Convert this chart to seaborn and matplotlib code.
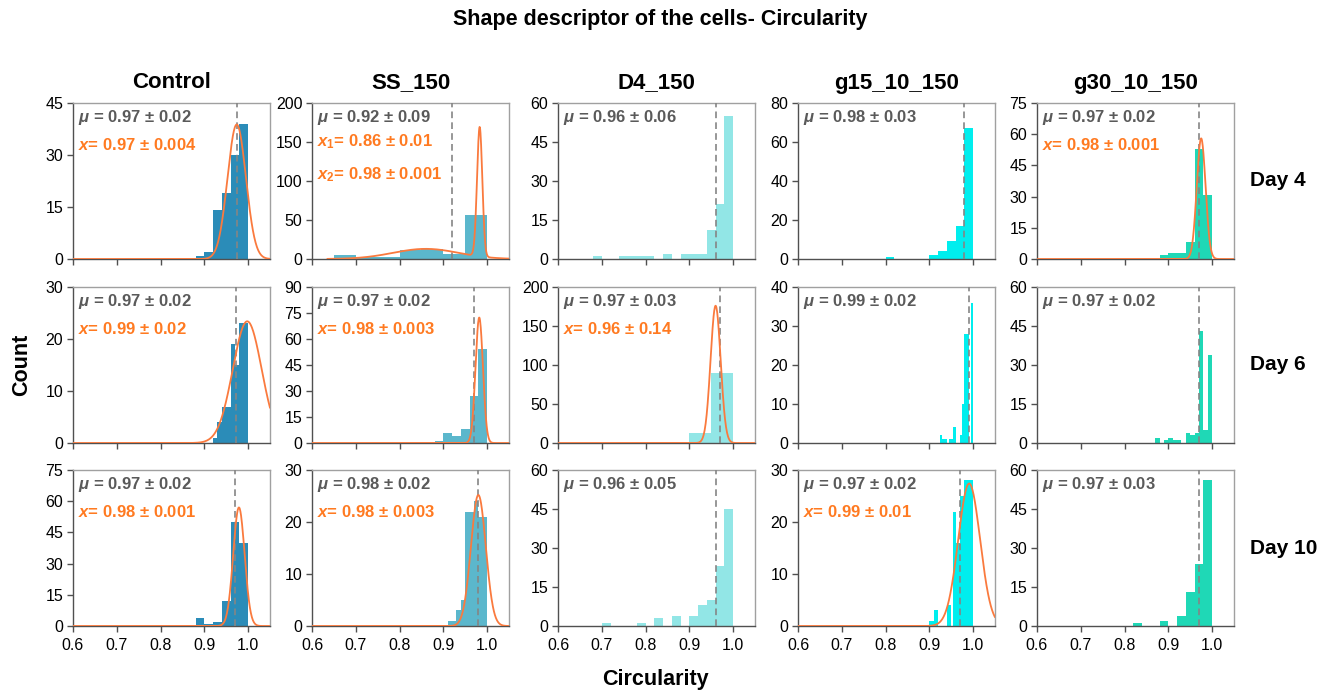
import numpy as np
import pandas as pd
import matplotlib
matplotlib.use("Agg")
import matplotlib.pyplot as plt
import seaborn as sns

sns.set_theme(style="ticks")
plt.rcParams['font.family'] = ['Liberation Sans', 'DejaVu Sans']
plt.rcParams['text.color'] = 'black'
plt.rcParams['mathtext.fontset'] = 'custom'
plt.rcParams['mathtext.it'] = 'Liberation Sans:italic:bold'
plt.rcParams['mathtext.rm'] = 'Liberation Sans:bold'
plt.rcParams['mathtext.bf'] = 'Liberation Sans:bold'

# ---------------- categories / labels ----------------
conditions = ["Control", "SS_150", "D4_150", "g15_10_150", "g30_10_150"]
days = ["Day 4", "Day 6", "Day 10"]
bar_colors = ["#2B8CB8", "#5BB7CC", "#92E6E6", "#00EEEE", "#1FD8B6"]
x_ticks = [0.6, 0.7, 0.8, 0.9, 1.0]
x_ticklabels = ["0.6", "0.7", "0.8", "0.9", "1.0"]

# y-axis (max, step) per row, per condition
ymax_d4 = [45, 200, 60, 80, 75]
ystep_d4 = [15, 50, 15, 20, 15]
ymax_d6 = [30, 90, 200, 40, 60]
ystep_d6 = [10, 15, 50, 10, 15]
ymax_d10 = [75, 30, 60, 30, 60]
ystep_d10 = [15, 10, 15, 10, 15]

# ---------------- Day 4 histograms ----------------
ctrl_d4_edges = [0.88, 0.90, 0.92, 0.94, 0.96, 0.98, 1.00]
ctrl_d4_counts = [1, 2, 14, 19, 30, 39]
ss_d4_edges = [0.65, 0.70, 0.75, 0.80, 0.85, 0.90, 0.95, 1.00]
ss_d4_counts = [5, 3, 3, 11, 13, 7, 57]
d4_d4_edges = [0.68, 0.70, 0.72, 0.74, 0.76, 0.78, 0.80, 0.82, 0.84, 0.86, 0.88, 0.90, 0.92, 0.94, 0.96, 0.98, 1.00]
d4_d4_counts = [1, 0, 0, 1, 1, 1, 1, 0, 2, 0, 2, 2, 2, 11, 21, 55]
g15_d4_edges = [0.80, 0.82, 0.84, 0.86, 0.88, 0.90, 0.92, 0.94, 0.96, 0.98, 1.00]
g15_d4_counts = [1, 0, 0, 0, 0, 2, 4, 9, 17, 67]
g30_d4_edges = [0.88, 0.90, 0.92, 0.94, 0.96, 0.98, 1.00]
g30_d4_counts = [2, 3, 3, 8, 53, 31]

# ---------------- Day 6 histograms ----------------
ctrl_d6_edges = [0.92, 0.93, 0.94, 0.95, 0.96, 0.97, 0.98, 0.99, 1.00]
ctrl_d6_counts = [1, 4, 7, 7, 19, 15, 23, 23]
ss_d6_edges = [0.88, 0.90, 0.92, 0.94, 0.96, 0.98, 1.00]
ss_d6_counts = [1, 6, 4, 8, 27, 54]
d4_d6_edges = [0.80, 0.85, 0.90, 0.95, 1.00]
d4_d6_counts = [1, 1, 13, 90]
g15_d6_edges = [0.925, 0.930, 0.935, 0.940, 0.945, 0.950, 0.955, 0.960, 0.965, 0.970, 0.975, 0.980, 0.985, 0.990, 0.995, 1.000]
g15_d6_counts = [2, 1, 1, 0, 1, 1, 4, 0, 0, 2, 10, 28, 28, 0, 36]
g30_d6_edges = [0.87, 0.88, 0.89, 0.90, 0.91, 0.92, 0.93, 0.94, 0.95, 0.96, 0.97, 0.98, 0.99, 1.00]
g30_d6_counts = [2, 0, 1, 2, 1, 1, 0, 4, 3, 4, 43, 5, 34]

# ---------------- Day 10 histograms ----------------
ctrl_d10_edges = [0.88, 0.90, 0.92, 0.94, 0.96, 0.98, 1.00]
ctrl_d10_counts = [4, 1, 2, 12, 50, 40]
ss_d10_edges = [0.91, 0.92, 0.93, 0.94, 0.95, 0.96, 0.97, 0.98, 0.99, 1.00]
ss_d10_counts = [1, 1, 3, 5, 22, 22, 24, 21, 21]
d4_d10_edges = [0.70, 0.72, 0.74, 0.76, 0.78, 0.80, 0.82, 0.84, 0.86, 0.88, 0.90, 0.92, 0.94, 0.96, 0.98, 1.00]
d4_d10_counts = [1, 0, 0, 0, 1, 0, 3, 0, 4, 0, 4, 8, 10, 23, 45]
g15_d10_edges = [0.90, 0.91, 0.92, 0.93, 0.94, 0.95, 0.955, 0.96, 0.965, 0.97, 0.98, 0.99, 1.00]
g15_d10_counts = [1, 3, 0, 0, 4, 0, 22, 16, 16, 25, 28, 28]
g30_d10_edges = [0.82, 0.84, 0.86, 0.88, 0.90, 0.92, 0.94, 0.96, 0.98, 1.00]
g30_d10_counts = [1, 0, 0, 2, 0, 4, 13, 24, 56]

# ---------------- means (dashed line) ----------------
means_d4 = [0.974, 0.92, 0.962, 0.98, 0.969]
means_d6 = [0.972, 0.97, 0.971, 0.991, 0.97]
means_d10 = [0.971, 0.98, 0.96, 0.97, 0.97]

# ---------------- annotation texts ----------------
mu_text_d4 = ["0.97 ± 0.02", "0.92 ± 0.09", "0.96 ± 0.06", "0.98 ± 0.03", "0.97 ± 0.02"]
mu_text_d6 = ["0.97 ± 0.02", "0.97 ± 0.02", "0.97 ± 0.03", "0.99 ± 0.02", "0.97 ± 0.02"]
mu_text_d10 = ["0.97 ± 0.02", "0.98 ± 0.02", "0.96 ± 0.05", "0.97 ± 0.02", "0.97 ± 0.03"]
fit_text_d4 = [["0.97 ± 0.004"], ["0.86 ± 0.01", "0.98 ± 0.001"], [], [], ["0.98 ± 0.001"]]
fit_text_d6 = [["0.99 ± 0.02"], ["0.98 ± 0.003"], ["0.96 ± 0.14"], [], []]
fit_text_d10 = [["0.98 ± 0.001"], ["0.98 ± 0.003"], [], ["0.99 ± 0.01"], []]

# ---------------- Gaussian fits: (amplitude, centre, width) components ----------------
fit_d4 = [[(38.8, 0.974, 0.021)], [(13.0, 0.86, 0.075), (166.0, 0.983, 0.006)], [], [], [(58.0, 0.975, 0.010)]]
fit_d6 = [[(23.4, 0.998, 0.033)], [(72.4, 0.982, 0.0085)], [(176.0, 0.960, 0.0115)], [], []]
fit_d10 = [[(57.0, 0.979, 0.013)], [(25.2, 0.980, 0.017)], [], [(27.4, 0.991, 0.025)], []]
fit_start_d4 = [0.6, 0.635, 0.6, 0.6, 0.6]

# ---------------- assemble tables ----------------
hist_edges = [
    [ctrl_d4_edges, ss_d4_edges, d4_d4_edges, g15_d4_edges, g30_d4_edges],
    [ctrl_d6_edges, ss_d6_edges, d4_d6_edges, g15_d6_edges, g30_d6_edges],
    [ctrl_d10_edges, ss_d10_edges, d4_d10_edges, g15_d10_edges, g30_d10_edges],
]
hist_counts = [
    [ctrl_d4_counts, ss_d4_counts, d4_d4_counts, g15_d4_counts, g30_d4_counts],
    [ctrl_d6_counts, ss_d6_counts, d4_d6_counts, g15_d6_counts, g30_d6_counts],
    [ctrl_d10_counts, ss_d10_counts, d4_d10_counts, g15_d10_counts, g30_d10_counts],
]
ymaxs = [ymax_d4, ymax_d6, ymax_d10]
ysteps = [ystep_d4, ystep_d6, ystep_d10]
means = [means_d4, means_d6, means_d10]
mu_texts = [mu_text_d4, mu_text_d6, mu_text_d10]
fit_texts = [fit_text_d4, fit_text_d6, fit_text_d10]
fits = [fit_d4, fit_d6, fit_d10]

# ---------------- figure ----------------
W, H = 1321, 693
fig = plt.figure(figsize=(W / 100, H / 100), dpi=100)
fig.patch.set_facecolor("white")

col_left = [73, 312, 558, 798, 1037]
col_width = 197
row_top = [103, 287, 470]
row_height = 156

GRAY_TXT = "#5A5A5A"
ORANGE_TXT = "#FF7A21"
ORANGE_LINE = "#FA7A3E"
ANN = 12

for r in range(3):
    for c in range(5):
        ax = fig.add_axes([col_left[c] / W, 1 - (row_top[r] + row_height) / H,
                           col_width / W, row_height / H])
        edges = hist_edges[r][c]
        counts = hist_counts[r][c]
        centers = [(edges[i] + edges[i + 1]) / 2 for i in range(len(counts))]
        df = pd.DataFrame({"circ": centers, "n": counts})
        sns.histplot(data=df, x="circ", weights="n", bins=edges, ax=ax,
                     color=bar_colors[c], alpha=1.0, linewidth=0, edgecolor=None, zorder=2)
        ax.axvline(means[r][c], color="#858585", ls=(0, (4, 2.5)), lw=1.2, zorder=3)
        comps = fits[r][c]
        if comps:
            start = fit_start_d4[c] if r == 0 else 0.6
            xs = np.linspace(start, 1.05, 600)
            ys = np.zeros_like(xs)
            for amp, cen, sig in comps:
                ys = ys + amp * np.exp(-0.5 * ((xs - cen) / sig) ** 2)
            sns.lineplot(x=xs, y=ys, ax=ax, color=ORANGE_LINE, lw=1.3, zorder=4)

        ax.set_xlim(0.6, 1.05)
        ax.set_ylim(0, ymaxs[r][c])
        ax.set_yticks(np.arange(0, ymaxs[r][c] + 0.1, ysteps[r][c]))
        ax.set_xticks(x_ticks)
        if r == 2:
            ax.set_xticklabels(x_ticklabels)
        else:
            ax.set_xticklabels([])
        ax.set_xlabel("")
        ax.set_ylabel("")
        for s in ["top", "right"]:
            ax.spines[s].set_color("#A0A0A0")
            ax.spines[s].set_linewidth(1.0)
        for s in ["left", "bottom"]:
            ax.spines[s].set_color("#505050")
            ax.spines[s].set_linewidth(1.0)
        ax.tick_params(axis="both", direction="out", length=4, width=1,
                       color="#505050", labelsize=11.5, labelcolor="black", pad=3)
        ax.tick_params(axis="x", pad=5)

        ax.text(0.025, 0.905, r"$\mu$ = " + mu_texts[r][c], transform=ax.transAxes,
                ha="left", va="center", fontsize=ANN, weight="bold", color=GRAY_TXT)
        ft = fit_texts[r][c]
        if len(ft) == 1:
            ax.text(0.025, 0.73, r"$x$= " + ft[0], transform=ax.transAxes,
                    ha="left", va="center", fontsize=ANN, weight="bold", color=ORANGE_TXT)
        elif len(ft) == 2:
            ax.text(0.025, 0.75, r"$x_1$= " + ft[0], transform=ax.transAxes,
                    ha="left", va="center", fontsize=ANN, weight="bold", color=ORANGE_TXT)
            ax.text(0.025, 0.54, r"$x_2$= " + ft[1], transform=ax.transAxes,
                    ha="left", va="center", fontsize=ANN, weight="bold", color=ORANGE_TXT)

        if r == 0:
            fig.text((col_left[c] + col_width / 2) / W, 1 - 83 / H, conditions[c],
                     ha="center", va="center", fontsize=16, weight="bold", color="black")
    fig.text(1250 / W, 1 - (row_top[r] + row_height / 2) / H, days[r],
             ha="left", va="center", fontsize=15, weight="bold", color="black")

fig.text(0.5, 1 - 20 / H, "Shape descriptor of the cells- Circularity",
         ha="center", va="center", fontsize=15.5, weight="bold", color="black")
fig.text(22 / W, 1 - 365 / H, "Count", rotation=90, ha="center", va="center",
         fontsize=15.5, weight="bold", color="black")
fig.text(655 / W, 1 - 680 / H, "Circularity", ha="center", va="center",
         fontsize=15.5, weight="bold", color="black")

fig.savefig("out.png", dpi=100, facecolor="white")
